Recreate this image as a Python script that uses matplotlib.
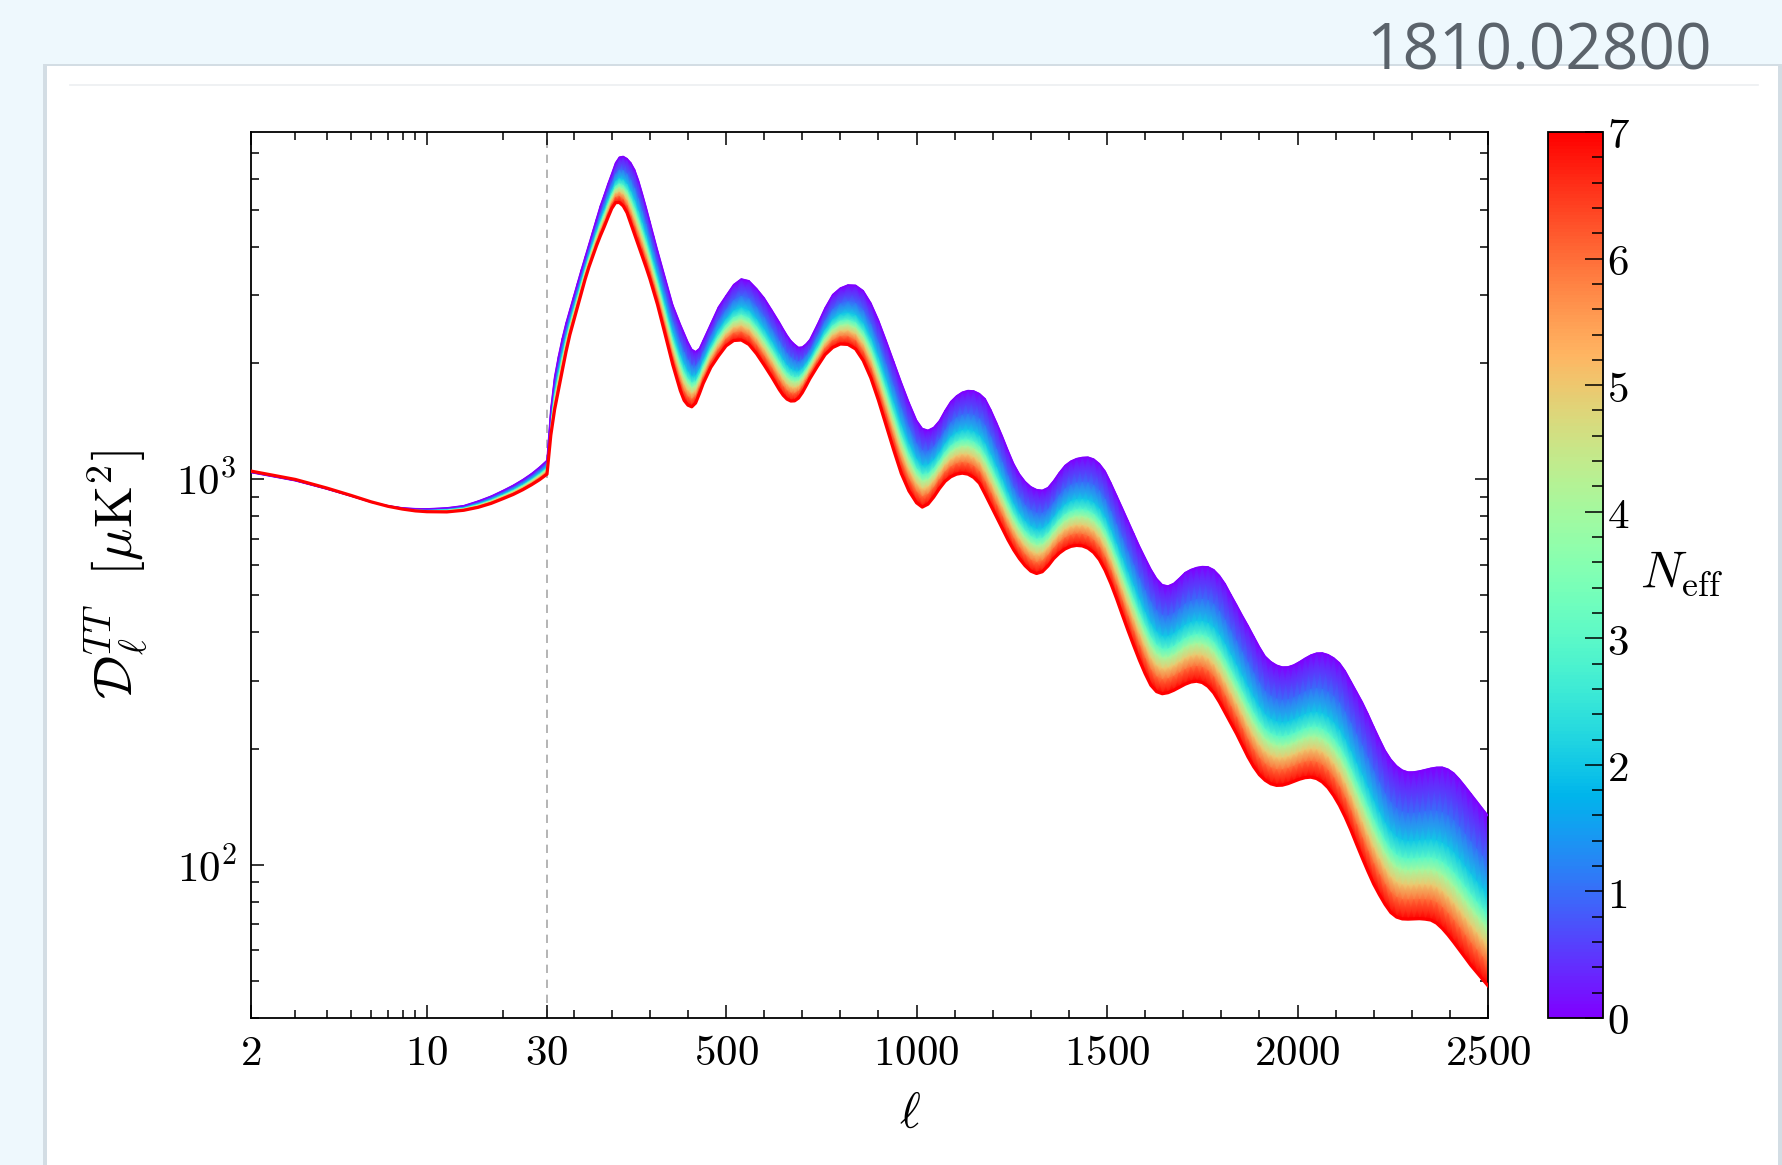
import numpy as np
import matplotlib
matplotlib.use('Agg')
import matplotlib.pyplot as plt
from matplotlib.ticker import FixedLocator, FixedFormatter, LogLocator, FuncFormatter, MultipleLocator, NullFormatter
from matplotlib.patches import Rectangle
from matplotlib.colors import Normalize
import matplotlib.cm as cm

plt.rcParams['mathtext.fontset'] = 'cm'
plt.rcParams['font.family'] = 'DejaVu Serif'

# ---------------- data ----------------
ell = [2, 3, 4, 5, 6, 7, 8, 9, 10, 12, 14, 16, 18, 20, 22, 24, 26, 28, 30,
       40, 50, 60, 70, 80, 90, 100, 110, 120, 130,
       140, 150, 160, 170, 180, 190, 200, 210, 220, 230,
       240, 250, 260, 270, 280, 290, 300, 310, 320,
       340, 360, 380, 390, 400, 410, 420, 430, 440, 460,
       480, 500, 520, 540, 560, 580, 600, 620, 640, 650,
       660, 670, 680, 690, 700, 710, 720, 740, 760, 780,
       800, 820, 840, 860, 880, 900, 920, 940, 960, 980, 1000,
       1015, 1030, 1045, 1060, 1075, 1090, 1105, 1120, 1135, 1150,
       1165, 1180, 1195, 1210, 1225, 1240, 1255, 1270, 1285, 1300,
       1315, 1330, 1345, 1360, 1375, 1390, 1405, 1420, 1435, 1450,
       1465, 1480, 1495, 1510, 1525, 1540, 1555, 1570, 1585, 1600,
       1615, 1630, 1645, 1660, 1675, 1690, 1705, 1720, 1735, 1750,
       1765, 1780, 1795, 1810, 1825, 1840, 1855, 1870, 1885, 1900,
       1915, 1930, 1945, 1960, 1975, 1990, 2005, 2020, 2035, 2050,
       2065, 2080, 2095, 2110, 2125, 2140, 2155, 2170, 2185, 2200,
       2215, 2230, 2245, 2260, 2275, 2290, 2305, 2320, 2335, 2350,
       2365, 2380, 2395, 2410, 2425, 2440, 2455, 2470, 2485, 2500]

# N_eff = 0 (upper edge of the family of spectra)
dl_neff0 = [1040, 990, 942, 903, 871, 853, 842, 838, 837, 842, 853, 877, 903, 933, 963, 996, 1032, 1073, 1118,
            1520, 1840, 2080, 2315, 2540, 2750, 2980, 3227, 3491, 3767,
            4064, 4393, 4743, 5112, 5452, 5830, 6200, 6610, 6840, 6870,
            6780, 6610, 6345, 5957, 5510, 5079, 4660, 4271, 3925,
            3330, 2830, 2520, 2390, 2265, 2170, 2140, 2180, 2290, 2530,
            2793, 2990, 3195, 3305, 3269, 3120, 2950, 2745, 2550, 2450,
            2360, 2285, 2235, 2195, 2200, 2240, 2300, 2520, 2780, 3010,
            3130, 3188, 3182, 3080, 2862, 2584, 2289, 2020, 1781, 1581, 1420,
            1353, 1338, 1361, 1416, 1506, 1589, 1643, 1680, 1697, 1693,
            1666, 1615, 1512, 1401, 1293, 1187, 1095, 1030, 985, 955,
            939, 935, 950, 990, 1040, 1085, 1113, 1130, 1138, 1140,
            1127, 1096, 1048, 978, 908, 842, 780, 723, 670, 625,
            584, 552, 532, 528, 536, 553, 572, 582.5, 589.5, 593,
            592, 582, 562, 535, 502, 472, 443, 417, 391, 367,
            347, 336, 329, 325.4, 325.7, 329.4, 335.7, 343, 349.5, 353.6,
            354, 350.4, 343.6, 333.6, 318, 299, 281, 264, 246, 228,
            212, 197.7, 187.5, 180.3, 175.8, 173.8, 173.9, 174.9, 176.3, 177.8,
            178.8, 178.9, 176.8, 172.8, 166.6, 159.7, 152.9, 146.3, 140, 134]

# N_eff = 7 (lower edge of the family of spectra)
dl_neff7 = [1049, 998, 948, 907, 873, 850, 836, 827, 823, 822, 830, 845, 865, 889, 912, 938, 966, 996, 1030,
            1299, 1515, 1703, 1909, 2140, 2368, 2574, 2793, 3034, 3296,
            3546, 3781, 4032, 4274, 4508, 4770, 5036, 5213, 5218, 5112,
            4910, 4600, 4303, 4031, 3781, 3545, 3309, 3064, 2837,
            2375, 1982, 1696, 1600, 1555, 1540, 1575, 1665, 1770, 1949,
            2086, 2216, 2288, 2295, 2235, 2115, 1976, 1840, 1705, 1650,
            1612, 1594, 1596, 1622, 1675, 1745, 1822, 1962, 2103, 2195,
            2241, 2235, 2175, 2030, 1830, 1601, 1381, 1190, 1034, 932, 868,
            846, 861, 898, 945, 987, 1014, 1030, 1036, 1030, 1010,
            976, 914, 854, 797, 745, 696, 655, 622, 596, 577,
            569, 575, 595, 622, 643, 659, 669, 673, 671, 662,
            645, 618, 580, 536, 490, 445, 405, 370, 339, 313,
            292, 281, 277.5, 279.2, 283.2, 288.4, 293.7, 297.6, 299, 296.7,
            290, 279, 264, 248, 232.7, 218.5, 204, 190.3, 179.4, 171,
            165.5, 162, 160.5, 160.7, 162.2, 164.3, 166.5, 168.1, 168.6, 167.2,
            163.8, 158.4, 151, 142.5, 133, 123, 113, 104, 96, 89,
            83.5, 78.8, 75.1, 73.1, 72.3, 72.2, 72.3, 72.4, 72.2, 71.8,
            70.5, 68.3, 65.7, 62.9, 60.1, 57.4, 54.8, 52.6, 50.5, 48.5]

assert len(ell) == len(dl_neff0) == len(dl_neff7)

neff_levels = [0, 1, 2, 3, 4, 5, 6, 7]

x_major = [2, 10, 30, 500, 1000, 1500, 2000, 2500]
x_major_labels = ['2', '10', '30', '500', '1000', '1500', '2000', '2500']
x_minor = [3, 4, 5, 6, 7, 8, 9, 20, 100, 200, 300, 400, 600, 700, 800, 900,
           1100, 1200, 1300, 1400, 1600, 1700, 1800, 1900, 2100, 2200, 2300, 2400]

# ---------------- style ----------------
# gradient stops (fraction of the band, top to bottom) where each N_eff colour sits
band_stops = [0.0, 0.28, 0.47, 0.59, 0.67, 0.77, 0.87, 1.0]
W1 = 296.0 / 1237.0  # fraction of axis width used by the log part (2..30)

W, H = 1783, 1165
fig = plt.figure(figsize=(W / 100, H / 100), dpi=100)
fig.patch.set_facecolor('#eef8fd')

# page card behind the chart
bg = fig.add_axes([0, 0, 1, 1], zorder=-10)
bg.set_xlim(0, W)
bg.set_ylim(H, 0)
bg.axis('off')
bg.add_patch(Rectangle((43, 64), 1783 - 43, H - 64, facecolor='#d3dde4', edgecolor='none'))
bg.add_patch(Rectangle((47, 66), 1778 - 47, H - 66, facecolor='white', edgecolor='none'))
bg.plot([70, 1758], [85, 85], color='#eceff1', lw=1.2)
bg.text(1712, 70, '1810.02800', ha='right', va='baseline', fontsize=46,
        color='#5b636b', family='Open Sans')


def fwd(x):
    x = np.asarray(x, dtype=float)
    lo = W1 * np.log(np.clip(x, 1e-3, None) / 2.0) / np.log(15.0)
    hi = W1 + (1 - W1) * (x - 30.0) / 2470.0
    return np.where(x <= 30, lo, hi)


def inv(u):
    u = np.asarray(u, dtype=float)
    lo = 2.0 * 15.0 ** (np.clip(u, -5, 5) / W1)
    hi = 30.0 + (u - W1) / (1 - W1) * 2470.0
    return np.where(u <= W1, lo, hi)


ax = fig.add_axes([251 / W, 1 - 1018 / H, 1237 / W, 886 / H], zorder=1)
ax.set_xscale('function', functions=(fwd, inv))
ax.set_yscale('log')

cmap = plt.get_cmap('rainbow')
norm = Normalize(0, 7)

# colour-graded band between the N_eff=0 and N_eff=7 spectra
L = np.array(ell, float)
lt = np.log10(np.array(dl_neff0, float))
lb = np.log10(np.array(dl_neff7, float))
st = np.array(band_stops)[:, None]
Y = 10 ** (lt[None, :] * (1 - st) + lb[None, :] * st)
X = np.broadcast_to(L, Y.shape)
C = np.broadcast_to(np.array(neff_levels, float)[:, None], Y.shape)
ax.pcolormesh(X, Y, C, shading='gouraud', cmap=cmap, norm=norm, zorder=2, antialiased=False)

ax.plot(ell, dl_neff0, color=cmap(0.0), lw=1.1, zorder=3)
ax.plot(ell, dl_neff7, color=cmap(1.0), lw=2.3, zorder=4)

ax.axvline(30, color='#a8a8a8', ls=(0, (5, 4)), lw=1.2, zorder=1)

ax.set_xlim(2, 2500)
ax.set_ylim(40, 7950)

ax.xaxis.set_major_locator(FixedLocator(x_major))
ax.xaxis.set_major_formatter(FixedFormatter([r'$\mathrm{%s}$' % s for s in x_major_labels]))
ax.xaxis.set_minor_locator(FixedLocator(x_minor))
ax.xaxis.set_minor_formatter(NullFormatter())
ax.yaxis.set_major_locator(LogLocator(base=10, numticks=10))
ax.yaxis.set_major_formatter(FuncFormatter(lambda v, p: r'$\mathrm{10}^{\mathrm{%d}}$' % int(round(np.log10(v)))))
ax.yaxis.set_minor_locator(LogLocator(base=10, subs=np.arange(2, 10), numticks=20))
ax.yaxis.set_minor_formatter(NullFormatter())

ax.tick_params(which='both', direction='in', top=True, right=True, width=1.1, color='black')
ax.tick_params(which='major', length=9.5, labelsize=31, pad=10)
ax.tick_params(which='minor', length=5.5)
for s in ax.spines.values():
    s.set_linewidth(1.3)

ax.set_xlabel(r'$\ell$', fontsize=36)
ax.xaxis.set_label_coords((910 - 251) / 1237, -0.108)
ax.xaxis.label.set_va('center')
ax.set_ylabel(r'$\mathcal{D}_\ell^{TT}\ \ [\mu\mathrm{K}^2]$', fontsize=39)
ax.yaxis.set_label_coords((117 - 251) / 1237, 0.5)
ax.yaxis.label.set_va('center')

# colorbar
cax = fig.add_axes([1548 / W, 1 - 1018 / H, 55 / W, 886 / H], zorder=1)
sm = cm.ScalarMappable(norm=norm, cmap=cmap)
cb = fig.colorbar(sm, cax=cax, ticks=neff_levels)
cb.ax.set_yticklabels([r'$\mathrm{%d}$' % v for v in neff_levels])
cb.ax.yaxis.set_minor_locator(MultipleLocator(0.2))
cb.ax.tick_params(which='both', direction='in', right=True, left=False, width=1.1)
cb.ax.tick_params(which='major', length=13, labelsize=31, pad=3)
cb.ax.tick_params(which='minor', length=8)
cb.outline.set_linewidth(1.3)
cb.ax.set_ylabel(r'$N_{\rm eff}$', fontsize=37, rotation=0, ha='left', va='center')
cb.ax.yaxis.set_label_coords((1640 - 1548) / 55, 0.5)

fig.savefig('out.png', dpi=100, facecolor=fig.get_facecolor())
